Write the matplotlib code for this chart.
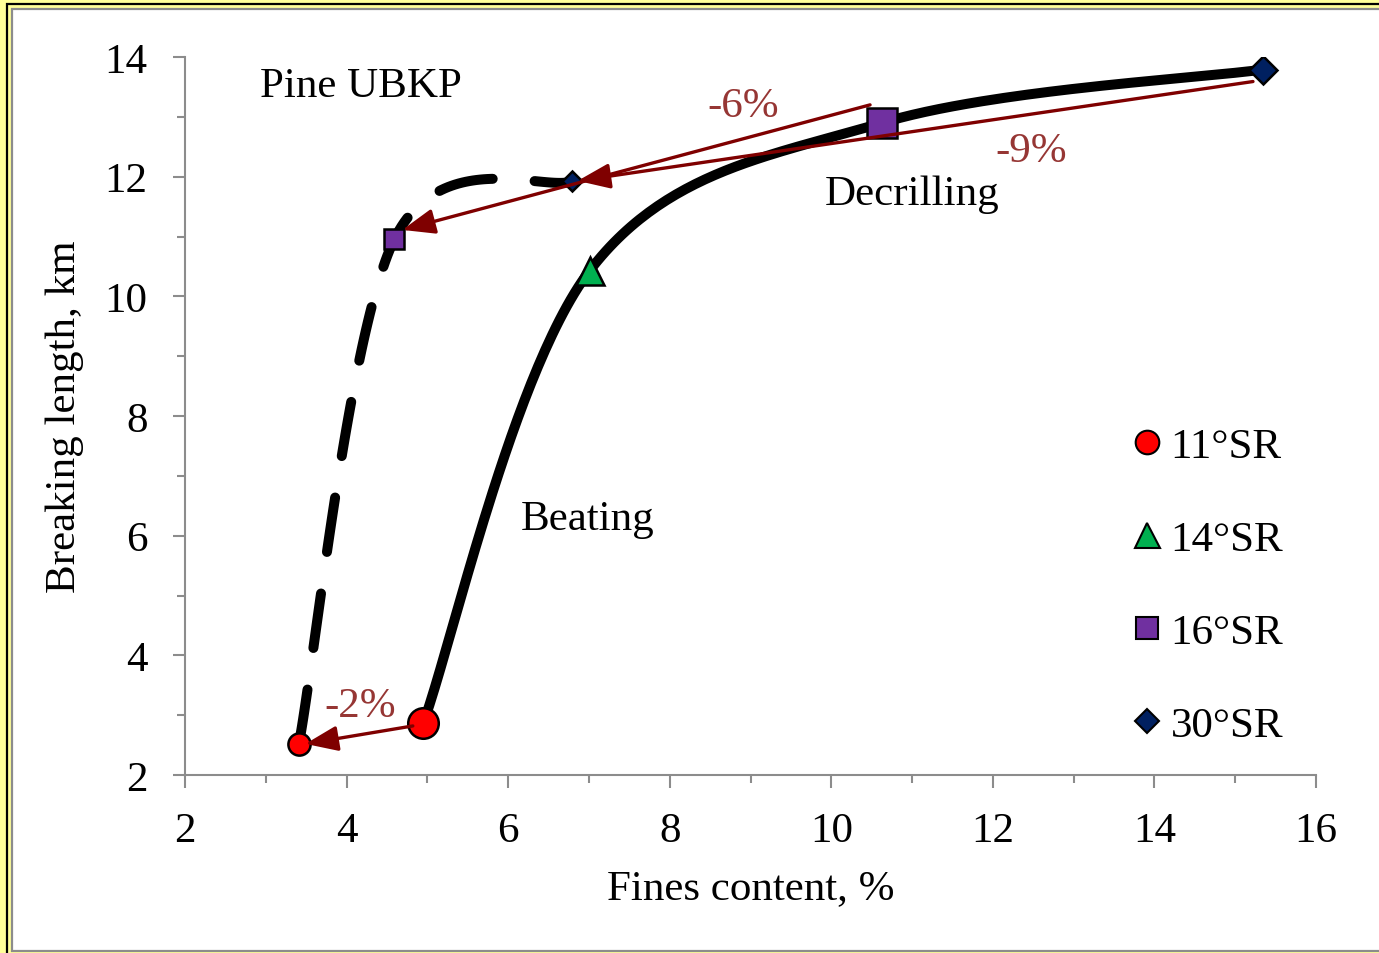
import matplotlib.pyplot as plt
import numpy as np
from matplotlib.patches import Rectangle
from matplotlib.lines import Line2D
from matplotlib.ticker import MultipleLocator

# data
beat_x = [4.95, 7.01, 10.63, 15.34]
beat_y = [2.87, 10.43, 12.90, 13.79]
decr_x = [3.41, 4.59, 6.79]
decr_y = [2.52, 10.95, 11.92]
srs = ["11°SR", "14°SR", "16°SR", "30°SR"]
mk = ["o", "^", "s", "D"]
cols = ["#FF0000", "#00B050", "#7030A0", "#002060"]
# arrows: (start, end, label, label position)
arr_from = [(4.82, 2.82), (10.48, 13.20), (15.22, 13.59)]
arr_to = [(3.49, 2.52), (4.69, 11.11), (6.86, 11.93)]
arr_lab = ["-2%", "-6%", "-9%"]
lab_pos = [(4.17, 3.15), (8.91, 13.19), (12.48, 12.43)]

plt.rcParams['font.family'] = ['Liberation Serif', 'DejaVu Serif']
plt.rcParams['font.size'] = 31

W, H = 1379, 954
fig = plt.figure(figsize=(W/100, H/100), dpi=100, facecolor="#FFFF99")
# double frame like the source
fig.patches.append(Rectangle((7/W, -0.1), 1.2, (H-5)/H + 0.1, transform=fig.transFigure,
                             facecolor="none", edgecolor="black", lw=1.6, zorder=-10))
fig.patches.append(Rectangle((12/W, 2/H), 1.2, (H-12)/H, transform=fig.transFigure,
                             facecolor="white", edgecolor="#8C8C8C", lw=1.6, zorder=-9))

ax = fig.add_axes([185/W, 1-776/H, (1316-185)/W, (776-58)/H])
ax.patch.set_visible(False)
ax.set_xlim(2, 16)
ax.set_ylim(2, 14)
for s in ["top", "right"]:
    ax.spines[s].set_visible(False)
for s in ["left", "bottom"]:
    ax.spines[s].set_color("#8C8C8C")
    ax.spines[s].set_linewidth(1.5)
ax.xaxis.set_major_locator(MultipleLocator(2))
ax.yaxis.set_major_locator(MultipleLocator(2))
ax.xaxis.set_minor_locator(MultipleLocator(1))
ax.yaxis.set_minor_locator(MultipleLocator(1))
ax.tick_params(which="major", direction="out", length=9, width=1.5, color="#8C8C8C")
ax.tick_params(axis="x", which="major", pad=17)
ax.tick_params(axis="y", which="major", pad=18)
ax.tick_params(which="minor", direction="out", length=6, width=1.5, color="#8C8C8C")
ax.set_xlabel("Fines content, %", labelpad=14)
ax.set_ylabel("Breaking length, km", labelpad=15)


def smooth(xs, ys, n=60):
    # Catmull-Rom in screen space, roughly like a spreadsheet smoothed line
    P = ax.transData.transform(np.column_stack([xs, ys]))
    Pe = np.vstack([P[0], P, P[-1]])
    out = []
    for i in range(len(P) - 1):
        p0, p1, p2, p3 = Pe[i], Pe[i+1], Pe[i+2], Pe[i+3]
        b1 = p1 + (p2 - p0) / 6
        b2 = p2 - (p3 - p1) / 6
        t = np.linspace(0, 1, n)[:, None]
        seg = (1-t)**3*p1 + 3*(1-t)**2*t*b1 + 3*(1-t)*t**2*b2 + t**3*p2
        out.append(seg if i == 0 else seg[1:])
    out = np.vstack(out)
    d = ax.transData.inverted().transform(out)
    return d[:, 0], d[:, 1]


sx, sy = smooth(beat_x, beat_y)
ax.plot(sx, sy, color="black", lw=7.2, solid_capstyle="round", zorder=2)
dx, dy = smooth(decr_x, decr_y)
ax.plot(dx, dy, color="black", lw=7.2, ls=(0, (5.5, 4.2)), dash_capstyle="round", zorder=2)

big = [22, 20, 21, 14]
small = [16, 15, 15, 10]
for i in range(4):
    ax.plot(beat_x[i], beat_y[i], marker=mk[i], ms=big[i], mfc=cols[i], mec="black",
            mew=1.8, ls="none", zorder=3)
for i, j in enumerate([0, 2, 3]):
    ax.plot(decr_x[i], decr_y[i], marker=mk[j], ms=small[j], mfc=cols[j], mec="black",
            mew=1.8, ls="none", zorder=3)

for a, b in zip(arr_from, arr_to):
    ax.annotate("", xy=b, xytext=a,
                arrowprops=dict(arrowstyle="-|>,head_length=0.9,head_width=0.35",
                                color="#7F0000", lw=2.4, mutation_scale=22,
                                shrinkA=0, shrinkB=0), zorder=4)
for t, p in zip(arr_lab, lab_pos):
    ax.text(p[0], p[1], t, color="#963634", ha="center", va="center", zorder=5)

ax.text(2.93, 13.52, "Pine UBKP", ha="left", va="center")
ax.text(11.0, 11.72, "Decrilling", ha="center", va="center")
ax.text(6.99, 6.28, "Beating", ha="center", va="center")

hs = [Line2D([], [], marker=mk[i], ms=[17, 18, 16, 12][i], mfc=cols[i], mec="black",
             mew=1.5, ls="none") for i in range(4)]
ax.legend(hs, srs, loc="upper left", bbox_to_anchor=(0.82, 0.515), frameon=False,
          handlelength=0.6, handletextpad=0.25, labelspacing=1.25, borderpad=0)

fig.savefig("out.png", dpi=100, facecolor=fig.get_facecolor())
